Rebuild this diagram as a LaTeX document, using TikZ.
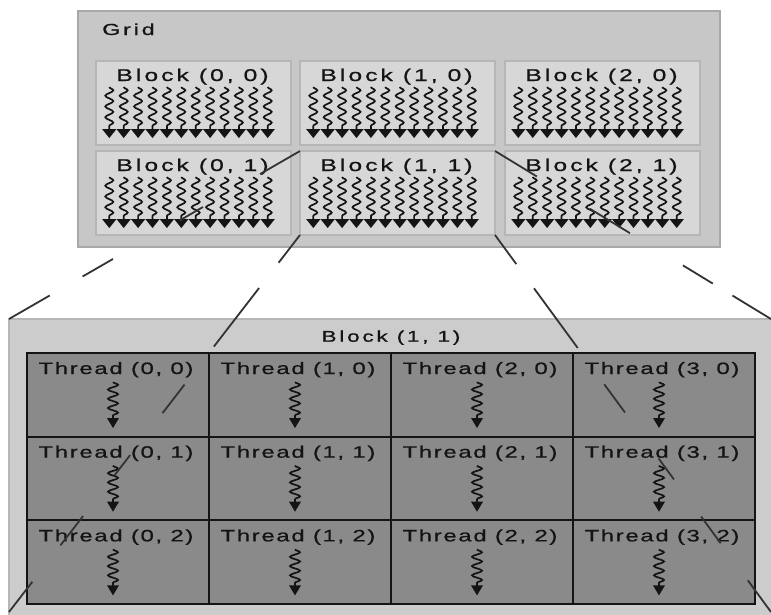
\documentclass[tikz,border=0pt]{standalone}
\usepackage{fontspec}
\usetikzlibrary{decorations.pathmorphing}
\newfontfamily\lblfont[FakeStretch=1.45,LetterSpace=18,FakeBold=0.8]{Liberation Sans}
\newfontfamily\thrfont[FakeStretch=1.45,LetterSpace=10,FakeBold=0.8]{Liberation Sans}
\definecolor{gridbg}{RGB}{199,199,199}
\definecolor{gridline}{RGB}{168,168,168}
\definecolor{blockbg}{RGB}{215,215,215}
\definecolor{blockline}{RGB}{182,182,182}
\definecolor{bigbg}{RGB}{204,204,204}
\definecolor{cellbg}{RGB}{138,138,138}
\definecolor{ink}{RGB}{20,20,20}
\tikzset{
  gridbox/.style={draw=gridline, line width=1.5pt, fill=gridbg, inner sep=0pt, outer sep=0pt, anchor=north west},
  blockbox/.style={draw=blockline, line width=2pt, fill=blockbg, minimum width=195pt, minimum height=84pt, inner sep=0pt, outer sep=0pt, anchor=north west},
  bigbox/.style={draw=blockline, line width=1.5pt, fill=bigbg, inner sep=0pt, outer sep=0pt, anchor=north west},
  cellbox/.style={draw=ink, line width=2pt, fill=cellbg, minimum width=182pt, minimum height=83.67pt, inner sep=0pt, outer sep=0pt, anchor=north west},
  blocklabel/.style={anchor=base, inner sep=0pt, text=ink, font=\lblfont\fontsize{17}{17}\selectfont},
  biglabel/.style={anchor=base, inner sep=0pt, text=ink, font=\lblfont\fontsize{15.5}{15.5}\selectfont},
  threadlabel/.style={anchor=base, inner sep=0pt, text=ink, font=\thrfont\fontsize{16.5}{16.5}\selectfont},
  wave/.style={draw=ink, line width=1.7pt, decorate, decoration={snake, segment length=10.75pt, amplitude=4pt}},
  thwave/.style={draw=ink, line width=1.7pt, decorate, decoration={snake, segment length=9.25pt, amplitude=5pt}},
  conn/.style={draw=black!80, line width=1.8pt},
}
\begin{document}
\begin{tikzpicture}[x=1pt,y=-1pt]
\useasboundingbox (0,0) rectangle (771,614);
\clip (0,0) rectangle (771,614);
% Grid
\node[gridbox, minimum width=642pt, minimum height=236pt] (grid) at (78,11) {};
\node[blocklabel, font=\lblfont\fontsize{16}{16}\selectfont, anchor=base west] (gridlbl) at (102,35) {Grid};
\foreach \bx/\by/\i/\j in {96/61/0/0, 300/61/1/0, 505/61/2/0, 96/151/0/1, 300/151/1/1, 505/151/2/1} {
  \node[blockbox] (b\i\j) at (\bx,\by) {};
  \node[blocklabel] (bl\i\j) at ([xshift=-1pt, yshift=-20pt]b\i\j.north) {Block (\i, \j)};
  \foreach \k in {0,...,11} {
    \pgfmathsetmacro\ax{\bx+97.5-5+(\k-5.5)*14.4}
    \draw[wave] (\ax,\by+26) -- (\ax,\by+69);
    \fill[ink] (\ax-7.2,\by+68) -- (\ax+7.2,\by+68) -- (\ax,\by+77) -- cycle;
  }
}
% Enlarged block
\node[bigbox, minimum width=770pt, minimum height=300pt] (big) at (9,319) {};
\node[biglabel] (biglbl) at (391,341.7) {Block (1, 1)};
\foreach \i in {0,...,3} {
  \foreach \j in {0,...,2} {
    \pgfmathsetmacro\tx{27+182*\i}
    \pgfmathsetmacro\ty{353+83.67*\j}
    \node[cellbox] (t\i\j) at (\tx,\ty) {};
    \node[threadlabel] (tl\i\j) at ([xshift=-2pt, yshift=-21pt]t\i\j.north) {Thread (\i, \j)};
    \draw[thwave] (\tx+86,\ty+29) -- (\tx+86,\ty+66);
    \fill[ink] (\tx+80,\ty+65) -- (\tx+92,\ty+65) -- (\tx+86,\ty+75) -- cycle;
  }
}
% connectors
\coordinate (cTL) at (9,319);
\coordinate (cTR) at (771,319);
\coordinate (cBL) at (9,612);
\coordinate (cBR) at (771,612);
\draw[conn, dash pattern=on 46pt off 66pt on 27pt off 77pt on 35pt off 38pt on 60pt off 100pt] (b11.north west) -- (cTL);
\draw[conn, dash pattern=on 49pt off 62pt on 47pt off 62pt on 35pt off 23pt on 60pt off 100pt] (b11.north east) -- (cTR);
\draw[conn, dash pattern=on 35pt off 32pt on 74pt off 48pt on 36pt off 53pt on 25pt off 52pt on 37pt off 46pt on 50pt off 100pt] (b11.south west) -- (cBL);
\draw[conn, dash pattern=on 36pt off 30pt on 74pt off 45pt on 35pt off 57pt on 26pt off 46pt on 33pt off 46pt on 50pt off 100pt] (b11.south east) -- (cBR);
\end{tikzpicture}
\end{document}
